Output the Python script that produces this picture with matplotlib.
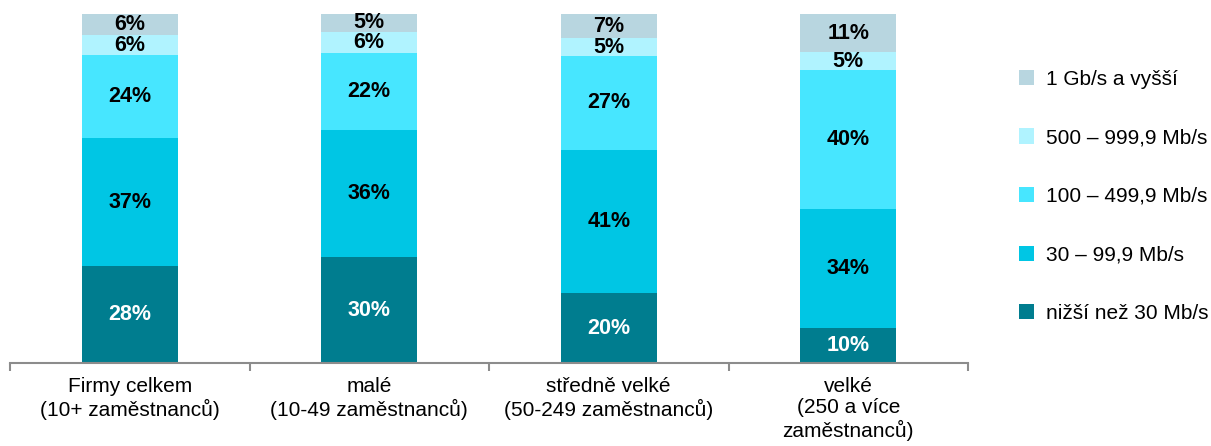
import matplotlib.pyplot as plt
import numpy as np

plt.rcParams['font.family'] = ['Liberation Sans', 'DejaVu Sans']

categories = ['Firmy celkem\n(10+ zaměstnanců)', 'malé\n(10-49 zaměstnanců)',
              'středně velké\n(50-249 zaměstnanců)', 'velké\n(250 a více\nzaměstnanců)']
series = ['nižší než 30 Mb/s', '30 – 99,9 Mb/s', '100 – 499,9 Mb/s',
          '500 – 999,9 Mb/s', '1 Gb/s a vyšší']
values = [
    [28, 30, 20, 10],
    [37, 36, 41, 34],
    [24, 22, 27, 40],
    [6, 6, 5, 5],
    [6, 5, 7, 11],
]
colors = ['#007D8F', '#00C6E4', '#47E6FF', '#B0F3FF', '#B8D6E0']
text_colors = ['white', 'black', 'black', 'black', 'black']

vals = np.array(values, dtype=float)
shares = vals / vals.sum(axis=0) * 100

fig = plt.figure(figsize=(12.11, 4.46), dpi=100)
ax = fig.add_axes([10 / 1211, 83 / 446, 958 / 1211, 349 / 446])

x = np.arange(len(categories))
bottom = np.zeros(len(categories))
handles = []
for i, name in enumerate(series):
    b = ax.bar(x, shares[i], 0.4, bottom=bottom, color=colors[i], label=name)
    handles.append(b)
    for j in range(len(categories)):
        ax.text(x[j], bottom[j] + shares[i][j] / 2, f'{int(values[i][j])}%',
                ha='center', va='center', fontsize=15.5, fontweight='bold',
                color=text_colors[i])
    bottom += shares[i]

ax.set_xlim(-0.5, 3.5)
ax.set_ylim(0, 100)
for s in ['top', 'right', 'left']:
    ax.spines[s].set_visible(False)
ax.spines['bottom'].set_color('#8c8c8c')
ax.spines['bottom'].set_linewidth(1.5)
ax.set_yticks([])
ax.set_xticks(x)
ax.set_xticklabels(categories, fontsize=15, linespacing=1.15)
ax.tick_params(axis='x', which='major', length=0, pad=10)
ax.set_xticks(np.arange(-0.5, 4, 1), minor=True)
ax.tick_params(axis='x', which='minor', length=6, width=1.5, color='#8c8c8c')

leg = fig.legend(handles[::-1], series[::-1], loc='upper left',
                 bbox_to_anchor=(1000 / 1211, 1 - 51 / 446), frameon=False,
                 fontsize=15, handlelength=0.75, handleheight=0.75,
                 labelspacing=1.9, handletextpad=0.55)

fig.savefig('out.png', dpi=100)
